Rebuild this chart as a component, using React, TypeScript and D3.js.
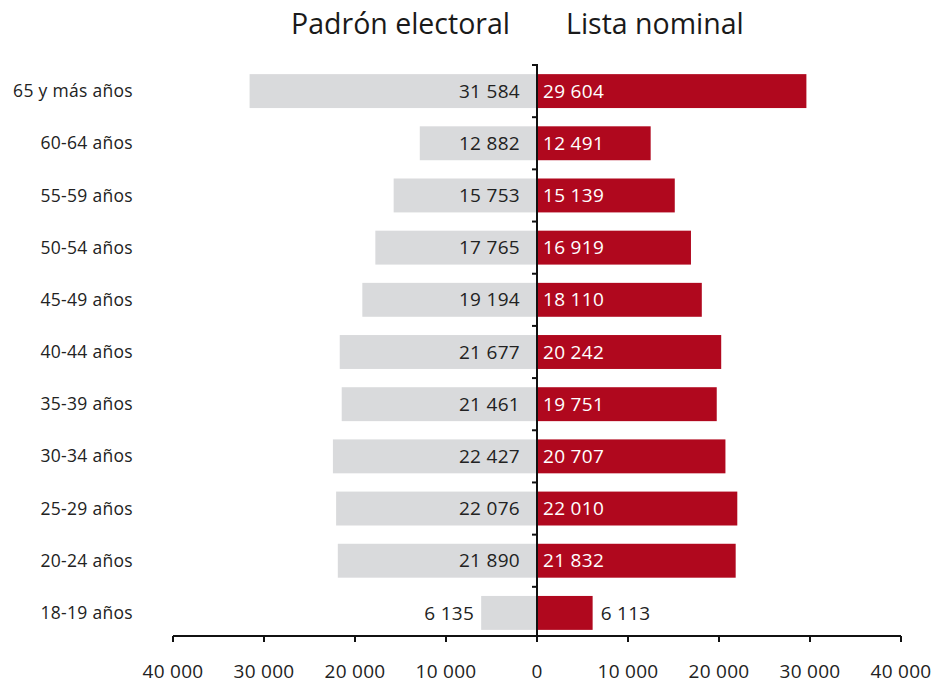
import React from "react";
import * as d3 from "d3";

const categories = ["65 y más años","60-64 años","55-59 años","50-54 años","45-49 años","40-44 años","35-39 años","30-34 años","25-29 años","20-24 años","18-19 años"];
const padron = [31584,12882,15753,17765,19194,21677,21461,22427,22076,21890,6135];
const lista = [29604,12491,15139,16919,18110,20242,19751,20707,22010,21832,6113];
const ticks = [-40000,-30000,-20000,-10000,0,10000,20000,30000,40000];

const W = 937, H = 684;
const fmt = (v: number) => {
  const s = String(Math.abs(Math.round(v)));
  return s.replace(/\B(?=(\d{3})+(?!\d))/g, " ");
};

export default function App() {
  const x = d3.scaleLinear().domain([-40000, 40000]).range([173, 901]);
  const y = d3.scaleBand().domain(categories).range([65, 639]).paddingInner(0.35).paddingOuter(0.175);
  const x0 = x(0);
  const font = "'Open Sans', 'Noto Sans', sans-serif";
  const bw = y.bandwidth();
  const step = y.step();
  return (
    <svg width={W} height={H} style={{ position: "absolute", left: 0, top: 0, fontFamily: font }}>
      <text x={x0 - 27} y={34} textAnchor="end" fontSize={28.5} fill="#1a1a1a">Padrón electoral</text>
      <text x={x0 + 29} y={34} textAnchor="start" fontSize={28.5} fill="#1a1a1a">Lista nominal</text>
      {categories.map((c, i) => {
        const yc = (y(c) as number) + bw / 2;
        const lw = x0 - x(-padron[i]);
        const rw = x(lista[i]) - x0;
        const lInside = lw > 70;
        const rInside = rw > 70;
        return (
          <g key={c}>
            <rect x={x(-padron[i])} y={y(c)} width={lw} height={bw} fill="#d9dadc" />
            <rect x={x0} y={y(c)} width={rw} height={bw} fill="#b0081e" />
            <text x={133} y={yc} dy="0.35em" textAnchor="end" fontSize={17.5} letterSpacing={0.3} fill="#222">{c}</text>
            <text x={lInside ? x0 - 17 : x(-padron[i]) - 7} y={yc} dy="0.35em" textAnchor="end" fontSize={19} letterSpacing={0.3} fill="#222">{fmt(padron[i])}</text>
            <text x={rInside ? x0 + 6 : x(lista[i]) + 8} y={yc} dy="0.35em" textAnchor="start" fontSize={19} letterSpacing={0.3} fill={rInside ? "#fff" : "#222"}>{fmt(lista[i])}</text>
          </g>
        );
      })}
      <line x1={x0} x2={x0} y1={64} y2={637} stroke="#111" strokeWidth={2} />
      {d3.range(categories.length).map((i) => {
        const yy = 65 + step * i;
        return <line key={i} x1={x0 - 5} x2={x0} y1={yy} y2={yy} stroke="#111" strokeWidth={2} />;
      })}
      <line x1={x(-40000)} x2={x(40000)} y1={636} y2={636} stroke="#111" strokeWidth={2} />
      {ticks.map((t) => (
        <g key={t}>
          <line x1={x(t)} x2={x(t)} y1={636} y2={642} stroke="#111" strokeWidth={2} />
          <text x={x(t)} y={671.5} dy="0.35em" textAnchor="middle" fontSize={19} letterSpacing={0.3} fill="#222">{fmt(t)}</text>
        </g>
      ))}
    </svg>
  );
}
